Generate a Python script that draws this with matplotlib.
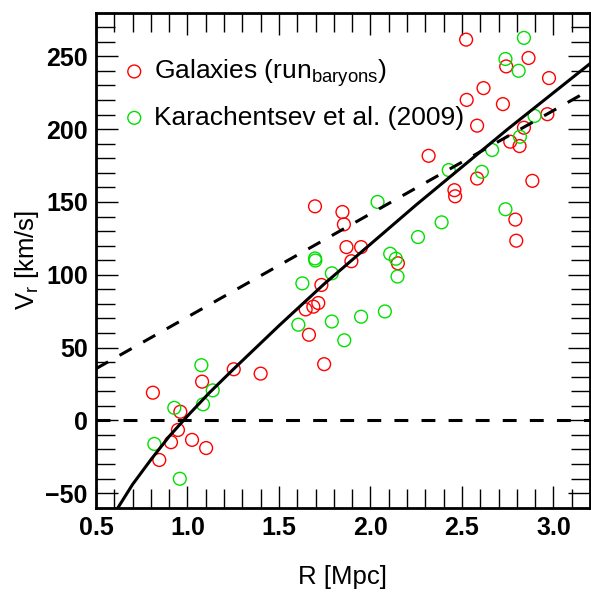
import matplotlib
matplotlib.use("Agg")
import matplotlib.pyplot as plt
from matplotlib.ticker import MultipleLocator

plt.rcParams['font.family'] = ['Liberation Sans', 'DejaVu Sans']
plt.rcParams['mathtext.fontset'] = 'custom'
plt.rcParams['mathtext.rm'] = 'Liberation Sans'
plt.rcParams['mathtext.it'] = 'Liberation Sans:italic'
plt.rcParams['lines.scale_dashes'] = False

# Simulated galaxies (run_baryons)
gal_R = [0.811, 0.961, 0.948, 0.910, 0.846, 1.025, 1.102, 1.080, 1.253, 1.400,
         1.747, 1.697, 1.847, 1.855, 1.869, 1.949, 1.896, 2.150, 1.732, 1.715,
         1.688, 1.646, 1.664, 2.792, 2.797, 2.523, 2.864, 2.742, 2.976, 2.618,
         2.526, 2.724, 2.583, 2.967, 2.839, 2.764, 2.815, 2.318, 2.583, 2.885,
         2.459, 2.463]
gal_V = [19.0, 5.9, -6.6, -15.0, -27.2, -13.4, -19.0, 26.6, 35.1, 32.1,
         38.6, 147.0, 143.1, 134.6, 119.0, 119.0, 109.3, 107.9, 93.0, 80.6,
         78.1, 76.2, 58.8, 137.9, 123.4, 261.5, 248.9, 243.1, 235.1, 228.2,
         220.1, 217.2, 202.4, 210.3, 201.0, 191.4, 188.4, 181.7, 166.1, 164.5,
         158.1, 153.9]

# Karachentsev et al. (2009)
kar_R = [1.076, 1.138, 1.085, 0.928, 0.819, 0.958, 1.697, 1.699, 1.789, 1.628,
         1.606, 1.789, 1.857, 2.039, 2.108, 2.139, 2.148, 2.260, 2.389, 2.738,
         1.949, 2.079, 2.839, 2.738, 2.810, 2.897, 2.817, 2.665, 2.428, 2.609]
kar_V = [37.9, 20.6, 11.0, 8.6, -16.2, -40.1, 111.2, 109.8, 101.0, 94.1,
         65.7, 67.9, 55.0, 150.0, 114.4, 111.0, 98.8, 125.9, 136.0, 145.0,
         71.2, 74.8, 262.7, 248.2, 240.1, 209.1, 194.8, 185.7, 171.9, 170.7]

# Model curve (solid)
model_R = [0.62, 0.70, 0.80, 0.90, 1.00, 1.12, 1.25, 1.50, 1.75, 2.00, 2.25,
           2.50, 2.75, 3.00, 3.20]
model_V = [-60, -44, -27, -11, 3, 19, 35, 65, 94, 121, 148, 174, 200, 225, 245]

# Hubble flow (dashed)
hub_R = [0.5, 3.2]
hub_V = [35.5, 227.0]

fig = plt.figure(figsize=(5.91, 5.93), dpi=100)
ax = fig.add_axes([0.1624, 0.1438, 0.8359, 0.8348])

red = '#ff0000'
green = '#00e000'
ax.scatter(gal_R, gal_V, s=85, facecolors='none', edgecolors=red,
           linewidths=1.0, zorder=2, label=r'Galaxies (run$_{\mathrm{baryons}}$)')
ax.scatter(kar_R, kar_V, s=85, facecolors='none', edgecolors=green,
           linewidths=1.0, zorder=2, label='Karachentsev et al. (2009)')

ax.plot(model_R, model_V, color='black', lw=2.2, zorder=3)
ax.plot(hub_R, hub_V, color='black', lw=2.2, dashes=(10, 9.5), zorder=3)
ax.axhline(0, color='black', lw=2.2, dashes=(10, 9.5), zorder=3)

ax.set_xlim(0.5, 3.2)
ax.set_ylim(-60, 280)
ax.xaxis.set_major_locator(MultipleLocator(0.5))
ax.xaxis.set_minor_locator(MultipleLocator(0.1))
ax.yaxis.set_major_locator(MultipleLocator(50))
ax.yaxis.set_minor_locator(MultipleLocator(10))
ax.set_xticks([0.5, 1.0, 1.5, 2.0, 2.5, 3.0])
ax.set_xticklabels(['0.5', '1.0', '1.5', '2.0', '2.5', '3.0'])

ax.tick_params(which='both', direction='in', top=True, right=True, width=1.0,
               labelsize=18, pad=6)
ax.tick_params(which='major', length=15.5)
ax.tick_params(which='minor', length=13.5)
for lab in ax.get_xticklabels() + ax.get_yticklabels():
    lab.set_fontweight('bold')
for sp in ax.spines.values():
    sp.set_linewidth(2.0)

ax.set_xlabel('R [Mpc]', fontsize=18.5, labelpad=18)
ax.set_ylabel(r'V$_{\mathrm{r}}$ [km/s]', fontsize=18.5, labelpad=3)

leg = ax.legend(loc='upper left', frameon=False, fontsize=19, handletextpad=0.15,
                labelspacing=0.65, borderaxespad=0.3, handlelength=1.2,
                bbox_to_anchor=(0.008, 0.948))

fig.savefig('out.png', dpi=100)
